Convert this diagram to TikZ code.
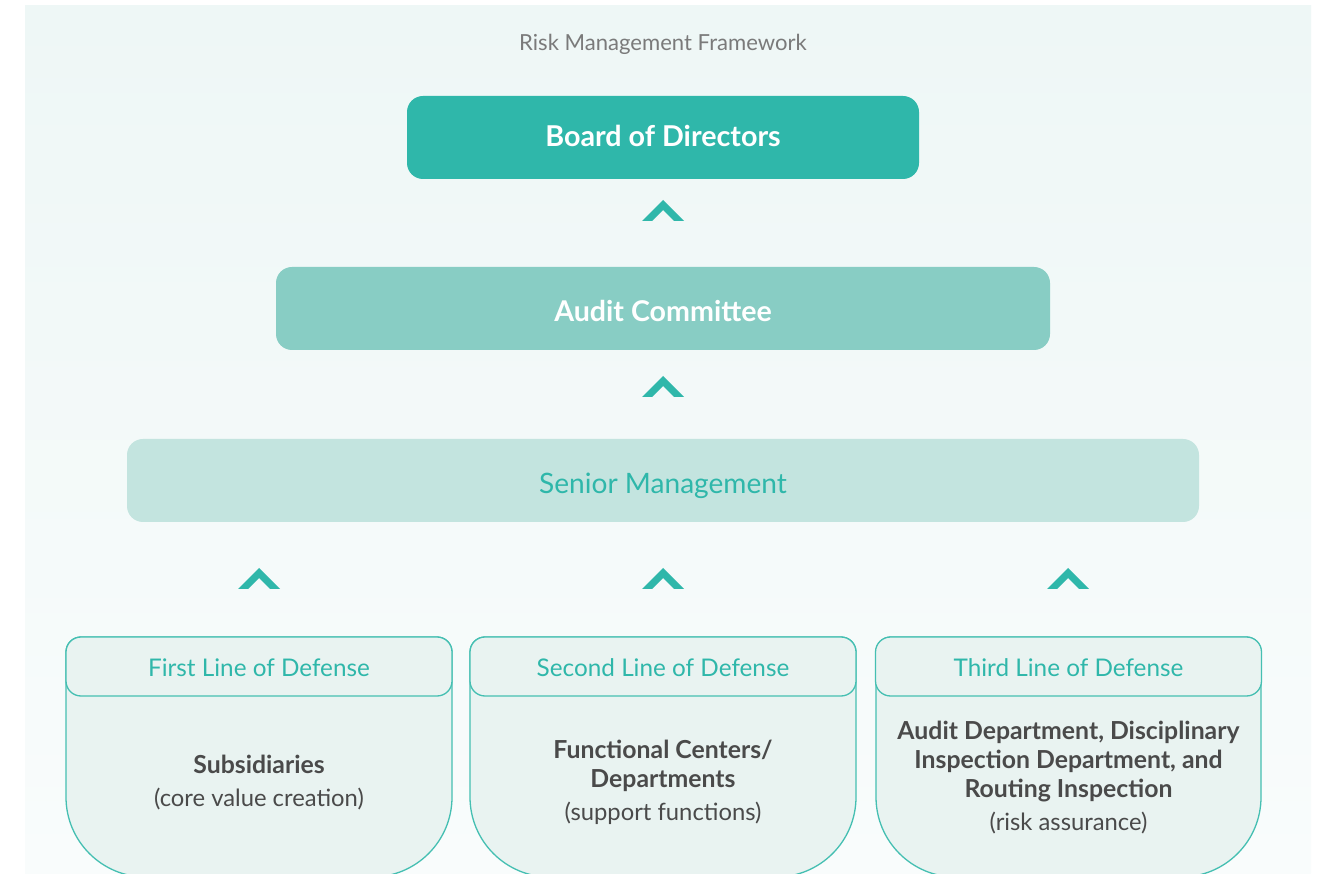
\documentclass[tikz,border=0pt]{standalone}
\usepackage{fontspec}
\setmainfont{Lato}
\usetikzlibrary{calc}

\definecolor{boardfill}{HTML}{2FB7AA}
\definecolor{auditfill}{HTML}{88CDC4}
\definecolor{seniorfill}{HTML}{C3E4DF}
\definecolor{accent}{HTML}{2FB7AA}
\definecolor{cardfill}{HTML}{E9F3F1}
\definecolor{cardline}{HTML}{45BFB2}
\definecolor{bodyink}{HTML}{4A4A4A}
\definecolor{titleink}{HTML}{7A7A7A}
\definecolor{bgtop}{HTML}{EEF7F6}
\definecolor{bgbot}{HTML}{F9FCFC}

\newcommand{\fsz}[2]{\fontsize{#1}{#2}\selectfont}

\begin{document}
\begin{tikzpicture}[x=1pt,y=1pt,
  level/.style={rounded corners=16pt, minimum height=83pt, inner sep=0pt, text depth=0pt},
  hdr/.style={draw=cardline, line width=1.3pt, fill=cardfill, rounded corners=15pt,
    minimum width=386pt, minimum height=59pt, inner sep=0pt, text depth=0pt,
    text height=20pt, text=accent, font=\fsz{24.3}{29}},
  cardbody/.style={draw=cardline, line width=1.3pt, fill=cardfill},
  bodytext/.style={align=center, anchor=north, inner sep=0pt, text=bodyink, font=\fsz{24.8}{29}},
  chevron/.pic={\fill[accent] (-21,-21) -- (0,0) -- (21,-21) -- (11,-21) -- (0,-10) -- (-11,-21) -- cycle;}
]
\useasboundingbox (0,0) rectangle (1319,873);
\fill[white] (0,0) rectangle (1319,873);
\shade[top color=bgtop, bottom color=bgbot] (25,0) rectangle (1311,867);

% title
\node[text=titleink, font=\fsz{22.1}{26}, anchor=base, inner sep=0pt] (title) at (663,822.3) {Risk Management Framework};

% governance levels
\node[level, fill=boardfill, minimum width=512pt, text=white, text height=18.4pt,
      font=\fsz{28.7}{34}\bfseries] (board) at (663,735.5) {Board of Directors};
\node[level, fill=auditfill, minimum width=774pt, text=white, text height=26.4pt,
      font=\fsz{28.6}{34}\bfseries] (audit) at (663,564.5) {Audit Committee};
\node[level, fill=seniorfill, minimum width=1072pt, text=accent, text height=26.4pt,
      font=\fsz{28.1}{34}] (senior) at (663,392.5) {Senior Management};

% upward chevrons
\pic at (663,673) {chevron};
\pic at (663,497) {chevron};
\pic at (259,305) {chevron};
\pic at (663,305) {chevron};
\pic at (1068,305) {chevron};

% defense line cards: body outline, then header on top
\foreach \xa/\xb in {66/452, 470/856, 876/1261}{
  \filldraw[cardbody] (\xa,76) -- (\xa,221) arc[start angle=180,end angle=90,radius=15]
    -- (\xb-15,236) arc[start angle=90,end angle=0,radius=15]
    -- (\xb,76) arc[start angle=0,end angle=-90,radius=80]
    -- (\xa+80,-4) arc[start angle=270,end angle=180,radius=80] -- cycle;
}
\node[hdr] (h1) at (259,206.5) {First Line of Defense};
\node[hdr] (h2) at (663,206.5) {Second Line of Defense};
\node[hdr] (h3) at (1068.5,206.5) {Third Line of Defense};

\node[bodytext] (b1) at (259,118)
  {\bfseries Subsidiaries\\[4pt]{\fsz{23.8}{29}(core value creation)}};
\node[bodytext] (b2) at (663,133)
  {\bfseries Functional Centers/\\\bfseries Departments\\[4pt]{\fsz{23.8}{29}(support functions)}};
\node[bodytext] (b3) at (1068.5,152)
  {\bfseries Audit Department, Disciplinary\\\bfseries Inspection Department, and\\\bfseries Routing Inspection\\[4pt]{\fsz{23.8}{29}(risk assurance)}};
\end{tikzpicture}
\end{document}
